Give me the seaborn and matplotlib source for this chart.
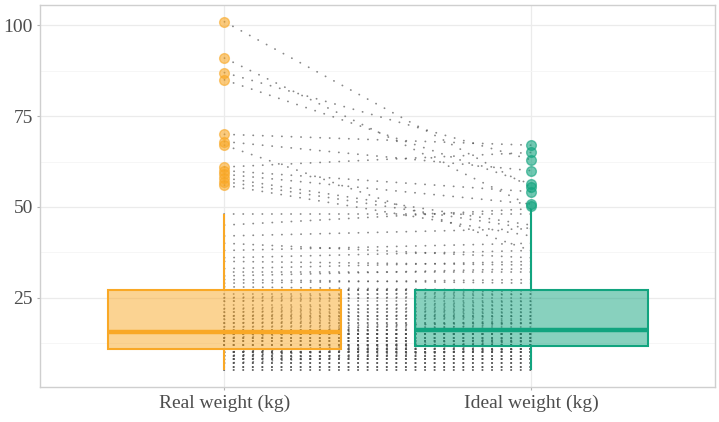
import matplotlib
matplotlib.use("Agg")
import matplotlib.pyplot as plt
from matplotlib.colors import to_rgba
import numpy as np
import pandas as pd
import seaborn as sns

# paired weights, one entry per person (real -> ideal)
real_kg = [
    5, 5, 6, 6, 6, 7, 7, 7, 7, 8, 8, 8, 8, 8, 9, 9, 9, 9, 9, 10, 10, 10, 10, 10, 10, 10,
    11, 11, 11, 11, 12, 12, 12, 12, 12, 13, 13, 13, 13, 14, 14, 14, 14, 14, 15, 15, 15, 15, 15, 15, 15, 15,
    16, 16, 16, 17, 17, 18, 18, 18, 19, 19, 20, 20, 20, 21, 21, 22, 22, 23, 24, 24, 25, 25, 26, 27, 27, 27,
    28, 29, 30, 31, 32, 33, 35, 36, 38, 40, 42, 45, 48,
    56, 57, 58, 59, 60, 61, 67, 68, 70, 85, 87, 91, 101,
]
ideal_kg = [
    5, 5, 6, 6, 6, 7, 7, 7, 11, 8, 8, 8, 8, 11, 9, 9, 9, 12, 13, 10, 10, 10, 10, 10, 13, 14,
    11, 11, 11, 11, 12, 12, 12, 12, 12, 13, 13, 13, 13, 14, 14, 14, 14, 18, 15, 15, 15, 15, 15, 15, 15, 19,
    16, 16, 16, 17, 18, 18, 18, 20, 19, 21, 20, 20, 22, 21, 23, 22, 24, 23, 24, 26, 25, 27, 26, 27, 27, 27,
    27, 30, 29, 33, 32, 35, 34, 38, 40, 36, 44, 49.5, 48,
    42, 44, 45, 50.8, 54.2, 65, 38, 60, 67, 56.3, 63, 50.3, 55.4,
]
labels = ["Real weight (kg)", "Ideal weight (kg)"]
colors = ["#F9A826", "#12A47F"]

n = len(real_kg)
df = pd.DataFrame({
    "id": list(range(n)) * 2,
    "measure": [labels[0]] * n + [labels[1]] * n,
    "pos": [0] * n + [1] * n,
    "kg": real_kg + ideal_kg,
})

sns.set_theme(style="white")
plt.rcParams["font.family"] = ["Liberation Serif", "DejaVu Serif"]

fig, ax = plt.subplots(figsize=(7.19, 4.22), dpi=100)
fig.subplots_adjust(left=0.0563, right=0.9944, bottom=0.0829, top=0.988)

# paired dotted lines
sns.lineplot(data=df, x="pos", y="kg", units="id", estimator=None, sort=False,
             color="#4a4a4a", lw=1.3, ls=(0, (0.1, 5.2)), dash_capstyle="round",
             alpha=0.65, zorder=1, legend=False, ax=ax)

for lab, c in zip(labels, colors):
    sub = df[df["measure"] == lab]
    sns.boxplot(data=sub, x="measure", y="kg", order=labels, color=c, linecolor=c,
                saturation=1, width=0.76, linewidth=1.5, showcaps=False,
                medianprops={"linewidth": 3.2, "color": c},
                flierprops={"marker": "o", "markerfacecolor": c, "markeredgecolor": c,
                            "alpha": 0.6, "markersize": 7},
                ax=ax)

for patch, c in zip(ax.patches, colors):
    patch.set_facecolor(to_rgba(c, 0.5))
    patch.set_edgecolor(c)
    patch.set_zorder(2)

ax.set_xlim(-0.6, 1.6)
ax.set_ylim(0.4, 105.6)
ax.set_xticks([0, 1])
ax.set_xticklabels(labels)
ax.set_yticks([25, 50, 75, 100])
ax.set_yticks([12.5, 37.5, 62.5, 87.5], minor=True)
ax.set_xlabel("")
ax.set_ylabel("")

ax.set_axisbelow(True)
ax.grid(True, which="major", color="#EBEBEB", lw=0.9)
ax.grid(True, which="minor", axis="y", color="#F5F5F5", lw=0.6)
for sp in ax.spines.values():
    sp.set_visible(True)
    sp.set_color("#CFCFCF")
    sp.set_linewidth(1)

ax.tick_params(which="major", length=2.5, width=0.8, color="#B3B3B3",
               labelcolor="#4D4D4D", labelsize=14, pad=3, left=True, bottom=True)
ax.tick_params(which="minor", length=0)

fig.savefig("out.png", dpi=100, facecolor="white")
